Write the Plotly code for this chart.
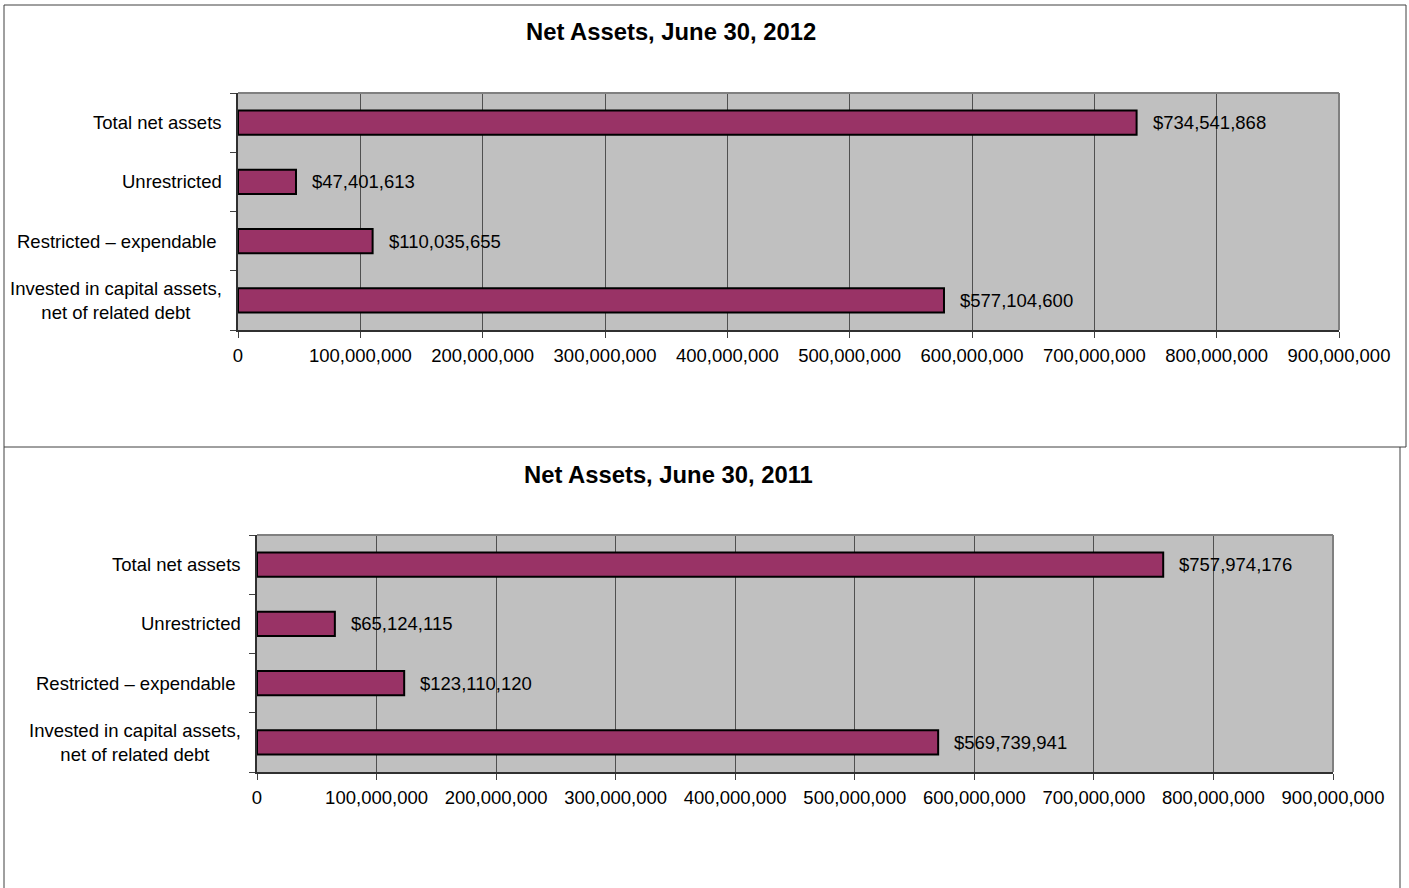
import plotly.graph_objects as go

W, H = 1409, 888

categories = ["Invested in capital assets,<br>net of related debt",
              "Restricted – expendable ",
              "Unrestricted",
              "Total net assets"]
values_2012 = [577104600, 110035655, 47401613, 734541868]
values_2011 = [569739941, 123110120, 65124115, 757974176]
titles = ["Net Assets, June 30, 2012", "Net Assets, June 30, 2011"]
tick_vals = [0, 100e6, 200e6, 300e6, 400e6, 500e6, 600e6, 700e6, 800e6, 900e6]
tick_text = ["0", "100,000,000", "200,000,000", "300,000,000", "400,000,000",
             "500,000,000", "600,000,000", "700,000,000", "800,000,000", "900,000,000"]

FONT = "Liberation Sans, Arial, sans-serif"
BAR = "#993366"
PLOT_BG = "#C0C0C0"

# pixel layouts of the two plot areas (left, right, top, bottom)
areas = [(238, 1339, 93, 330), (257, 1333, 535, 772)]
title_pos = [(671, 32), (668, 474)]

fig = go.Figure()
annotations = []
shapes = []

for i, (vals, (l, r, t, b)) in enumerate(zip([values_2012, values_2011], areas)):
    xa = "x" if i == 0 else "x2"
    ya = "y" if i == 0 else "y2"
    fig.add_trace(go.Bar(
        x=vals, y=categories, orientation="h",
        marker=dict(color=BAR, line=dict(color="black", width=2)),
        xaxis=xa, yaxis=ya, showlegend=False, hoverinfo="x+y",
    ))
    xkey = "xaxis" if i == 0 else "xaxis2"
    ykey = "yaxis" if i == 0 else "yaxis2"
    fig.layout[xkey] = dict(
        domain=[l / W, r / W], anchor=ya, range=[0, 900e6],
        tickvals=tick_vals, ticktext=tick_text, ticks="outside", ticklen=6,
        tickcolor="#404040", tickwidth=1,
        showgrid=True, gridcolor="#505050", gridwidth=1,
        showline=True, linecolor="#303030", linewidth=2,
        zeroline=False, fixedrange=True, ticklabelstandoff=2,
        automargin=False,
        tickfont=dict(family=FONT, size=18.5, color="black"),
    )
    fig.layout[ykey] = dict(
        domain=[(H - b) / H, (H - t) / H], anchor=xa,
        type="category", categoryorder="array", categoryarray=categories,
        showticklabels=False, ticks="outside", ticklen=6, tickson="boundaries",
        tickcolor="#404040", tickwidth=1,
        showline=True, linecolor="#303030", linewidth=2,
        showgrid=False, fixedrange=True, automargin=False,
    )
    xd = "x domain" if i == 0 else "x2 domain"
    yd = "y domain" if i == 0 else "y2 domain"
    # gray top and right plot border
    shapes.append(dict(type="line", xref=xd, yref=yd, x0=0, x1=1, y0=1, y1=1,
                       line=dict(color="#808080", width=2), layer="above"))
    shapes.append(dict(type="line", xref=xd, yref=yd, x0=1, x1=1, y0=0, y1=1,
                       line=dict(color="#808080", width=2), layer="above"))
    # category labels
    for c in categories:
        annotations.append(dict(
            text=c, xref=xd, yref=ya, x=0, y=c, xanchor="right", yanchor="middle",
            xshift=-14, showarrow=False, align="center",
            font=dict(family=FONT, size=18.5, color="black"),
        ))
    # value labels
    for c, v in zip(categories, vals):
        annotations.append(dict(
            text="${:,}".format(v), xref=xa, yref=ya, x=v, y=c,
            xanchor="left", yanchor="middle", xshift=14, showarrow=False,
            font=dict(family=FONT, size=18.5, color="black"),
        ))
    tx, ty = title_pos[i]
    annotations.append(dict(
        text="<b>" + titles[i] + "</b>", xref="paper", yref="paper",
        x=tx / W, y=(H - ty) / H, xanchor="center", yanchor="middle",
        showarrow=False, font=dict(family=FONT, size=23.8, color="black"),
    ))

# chart box borders
shapes.append(dict(type="rect", xref="paper", yref="paper",
                   x0=4 / W, x1=1406 / W, y0=(H - 447) / H, y1=(H - 5) / H,
                   line=dict(color="#404040", width=1)))
shapes.append(dict(type="line", xref="paper", yref="paper",
                   x0=4 / W, x1=4 / W, y0=-0.01, y1=(H - 447) / H,
                   line=dict(color="#404040", width=1)))
shapes.append(dict(type="line", xref="paper", yref="paper",
                   x0=1400 / W, x1=1400 / W, y0=-0.01, y1=(H - 447) / H,
                   line=dict(color="#404040", width=1)))

fig.update_layout(
    width=W, height=H, autosize=False,
    margin=dict(l=0, r=0, t=0, b=0, pad=0),
    paper_bgcolor="white", plot_bgcolor=PLOT_BG,
    bargap=0.59,
    annotations=annotations, shapes=shapes,
    font=dict(family=FONT, size=18.5, color="black"),
)

fig.write_html(
    "out.html",
    config={"responsive": False, "displayModeBar": False},
    post_script="document.body.style.margin='0';document.body.style.padding='0';"
                "document.body.style.overflow='hidden';"
                "document.documentElement.style.overflow='hidden';",
)
